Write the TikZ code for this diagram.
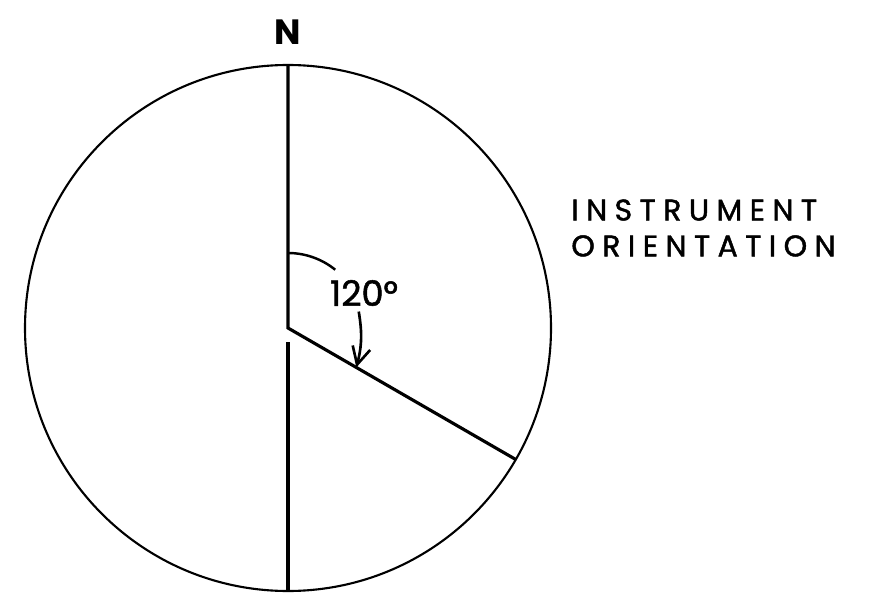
\documentclass[tikz,border=0pt]{standalone}
\usepackage{fontspec}
\setmainfont{Poppins}
\usepackage{tikz}
\usetikzlibrary{arrows.meta, positioning, calc}
\tikzset{
  % Compass drawing styles
  rim/.style={line width=1.2pt, draw=black},
  bearing/.style={line width=1.8pt, draw=black},
  anglearc/.style={line width=1.4pt, draw=black},
  pointer/.style={-{Straight Barb[length=3.5mm, width=3.6mm, line width=1.5pt]}, line width=1.5pt},
  label/.style={font=\fontsize{20}{22}\selectfont, inner sep=0pt},
}

\begin{document}
\begin{tikzpicture}[x=0.02cm, y=0.02cm]
    \useasboundingbox (0,0) rectangle (888,599);

    % Centre and rim points
    \coordinate (c) at (288,271);
    \coordinate (top) at (288,534);
    \coordinate (gap) at (288,257);
    \coordinate (bot) at (288,8);
    \coordinate (rimend) at ($(c)+(-30:263)$);

    % Outer circle
    \draw[rim] (c) circle (263);

    % North and instrument lines
    \draw[bearing] (top) -- (c) -- (rimend);
    \draw[bearing] (gap) -- (bot);

    % North label
    \node[label, font=\fontsize{20}{22}\selectfont\bfseries] (north) at (288,567) {N};

    % Angle arc
    \draw[anglearc] ($(c)+(90:75)$) arc[start angle=90, end angle=51, radius=75];
    \node[label, font=\fontsize{20}{22}\selectfont\addfontfeatures{FakeBold=1.5}] (ang) at (364,306) {120°};
    \coordinate (hit) at ($(c)!0.3!(rimend)$);
    \draw[pointer] ([xshift=-3pt, yshift=-3pt]ang.south) to[bend left=12] (hit);

    % Side caption
    \node[label, font=\fontsize{17}{20.4}\selectfont\addfontfeatures{LetterSpace=25, FakeBold=1.5}, align=left, anchor=west] (caption) at (571,371) {INSTRUMENT\\ORIENTATION};
  \end{tikzpicture}
\end{document}
